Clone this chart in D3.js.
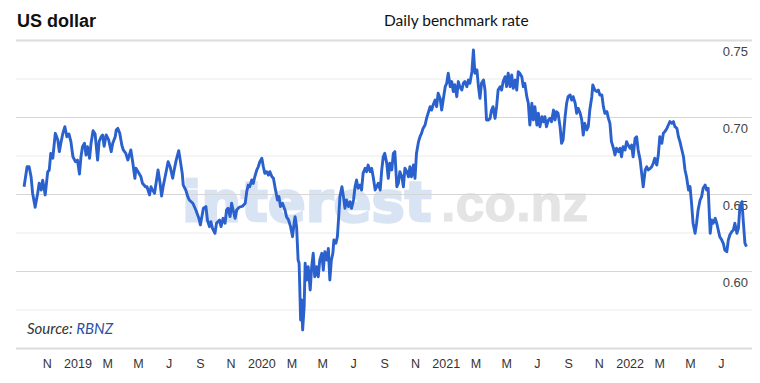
<!DOCTYPE html>
<html>
<head>
<meta charset="utf-8">
<script src="https://cdn.jsdelivr.net/npm/d3@7"></script>
<style>
body { margin: 0; background: #fff; }
svg { display: block; }
</style>
</head>
<body>
<div id="chart"></div>
<script>
// NZD/USD daily benchmark rate
var dates = [
  "2018-09-17","2018-09-23","2018-09-27","2018-10-01","2018-10-04","2018-10-09","2018-10-14","2018-10-17","2018-10-21","2018-10-24",
  "2018-10-29","2018-11-03","2018-11-06","2018-11-09","2018-11-13","2018-11-18","2018-11-23","2018-11-26","2018-11-29","2018-12-03",
  "2018-12-07","2018-12-11","2018-12-15","2018-12-19","2018-12-23","2018-12-28","2019-01-01","2019-01-05","2019-01-08","2019-01-11",
  "2019-01-15","2019-01-18","2019-01-21","2019-01-25","2019-01-28","2019-02-01","2019-02-05","2019-02-10","2019-02-13","2019-02-17",
  "2019-02-20","2019-02-23","2019-02-27","2019-03-04","2019-03-09","2019-03-12","2019-03-17","2019-03-19","2019-03-22","2019-03-26",
  "2019-03-30","2019-04-02","2019-04-07","2019-04-11","2019-04-17","2019-04-21","2019-04-25","2019-04-27","2019-05-03","2019-05-07",
  "2019-05-10","2019-05-16","2019-05-19","2019-05-24","2019-05-27","2019-05-30","2019-06-03","2019-06-06","2019-06-10","2019-06-14",
  "2019-06-17","2019-06-20","2019-06-26","2019-06-30","2019-07-04","2019-07-09","2019-07-12","2019-07-16","2019-07-21","2019-07-24",
  "2019-07-28","2019-07-30","2019-08-04","2019-08-08","2019-08-11","2019-08-18","2019-08-24","2019-08-30","2019-09-02","2019-09-08",
  "2019-09-13","2019-09-16","2019-09-20","2019-09-23","2019-09-26","2019-10-01","2019-10-04","2019-10-10","2019-10-13","2019-10-17",
  "2019-10-21","2019-10-24","2019-10-27","2019-10-31","2019-11-03","2019-11-06","2019-11-10","2019-11-13","2019-11-18","2019-11-25",
  "2019-11-30","2019-12-03","2019-12-06","2019-12-09","2019-12-13","2019-12-16","2019-12-19","2019-12-23","2019-12-26","2019-12-29",
  "2020-01-02","2020-01-05","2020-01-08","2020-01-12","2020-01-15","2020-01-18","2020-01-22","2020-01-25","2020-01-28","2020-02-02",
  "2020-02-05","2020-02-08","2020-02-12","2020-02-17","2020-02-20","2020-02-24","2020-02-28","2020-03-03","2020-03-06","2020-03-08",
  "2020-03-11","2020-03-14","2020-03-16","2020-03-19","2020-03-21","2020-03-23","2020-03-26","2020-03-28","2020-03-31","2020-04-03",
  "2020-04-07","2020-04-10","2020-04-13","2020-04-16","2020-04-20","2020-04-23","2020-04-26","2020-04-30","2020-05-03","2020-05-06",
  "2020-05-10","2020-05-13","2020-05-16","2020-05-19","2020-05-22","2020-05-24","2020-05-28","2020-05-31","2020-06-03","2020-06-05",
  "2020-06-09","2020-06-12","2020-06-15","2020-06-18","2020-06-22","2020-06-25","2020-06-28","2020-07-02","2020-07-05","2020-07-08",
  "2020-07-11","2020-07-15","2020-07-18","2020-07-21","2020-07-25","2020-07-28","2020-07-31","2020-08-04","2020-08-07","2020-08-10",
  "2020-08-14","2020-08-17","2020-08-20","2020-08-24","2020-08-27","2020-08-30","2020-09-02","2020-09-06","2020-09-09","2020-09-12",
  "2020-09-16","2020-09-19","2020-09-22","2020-09-26","2020-09-29","2020-10-02","2020-10-06","2020-10-09","2020-10-12","2020-10-16",
  "2020-10-19","2020-10-22","2020-10-25","2020-10-29","2020-11-01","2020-11-04","2020-11-08","2020-11-11","2020-11-14","2020-11-17",
  "2020-11-21","2020-11-24","2020-11-27","2020-12-01","2020-12-04","2020-12-07","2020-12-11","2020-12-14","2020-12-17","2020-12-21",
  "2020-12-24","2020-12-27","2020-12-31","2021-01-03","2021-01-06","2021-01-10","2021-01-13","2021-01-16","2021-01-19","2021-01-23",
  "2021-01-26","2021-01-29","2021-02-02","2021-02-05","2021-02-08","2021-02-12","2021-02-15","2021-02-18","2021-02-22","2021-02-25",
  "2021-02-28","2021-03-04","2021-03-07","2021-03-10","2021-03-13","2021-03-17","2021-03-20","2021-03-23","2021-03-27","2021-03-30",
  "2021-04-02","2021-04-05","2021-04-09","2021-04-12","2021-04-15","2021-04-19","2021-04-22","2021-04-25","2021-04-29","2021-05-02",
  "2021-05-05","2021-05-09","2021-05-12","2021-05-15","2021-05-19","2021-05-22","2021-05-25","2021-05-28","2021-06-01","2021-06-04",
  "2021-06-07","2021-06-11","2021-06-14","2021-06-17","2021-06-21","2021-06-24","2021-06-27","2021-07-01","2021-07-04","2021-07-07",
  "2021-07-11","2021-07-14","2021-07-17","2021-07-20","2021-07-24","2021-07-27","2021-07-30","2021-08-03","2021-08-06","2021-08-09",
  "2021-08-12","2021-08-16","2021-08-19","2021-08-22","2021-08-26","2021-08-29","2021-09-01","2021-09-05","2021-09-08","2021-09-11",
  "2021-09-15","2021-09-18","2021-09-21","2021-09-25","2021-09-28","2021-10-01","2021-10-04","2021-10-08","2021-10-11","2021-10-14",
  "2021-10-18","2021-10-20","2021-10-24","2021-10-28","2021-10-31","2021-11-03","2021-11-07","2021-11-10","2021-11-13","2021-11-17",
  "2021-11-20","2021-11-23","2021-11-26","2021-11-30","2021-12-03","2021-12-06","2021-12-10","2021-12-13","2021-12-16","2021-12-19",
  "2021-12-23","2021-12-26","2021-12-29","2022-01-02","2022-01-05","2022-01-08","2022-01-12","2022-01-15","2022-01-18","2022-01-22",
  "2022-01-25","2022-01-28","2022-02-01","2022-02-04","2022-02-07","2022-02-11","2022-02-14","2022-02-17","2022-02-20","2022-02-24",
  "2022-02-27","2022-03-02","2022-03-06","2022-03-09","2022-03-12","2022-03-16","2022-03-19","2022-03-22","2022-03-26","2022-03-29",
  "2022-04-01","2022-04-05","2022-04-08","2022-04-11","2022-04-14","2022-04-18","2022-04-21","2022-04-24","2022-04-28","2022-05-01",
  "2022-05-04","2022-05-07","2022-05-11","2022-05-14","2022-05-17","2022-05-21","2022-05-24","2022-05-27","2022-05-31","2022-06-03",
  "2022-06-06","2022-06-10","2022-06-13","2022-06-16","2022-06-20","2022-06-23","2022-06-26","2022-06-29","2022-07-03","2022-07-06",
  "2022-07-09","2022-07-13","2022-07-16","2022-07-19","2022-07-23","2022-07-26","2022-07-29","2022-08-02","2022-08-05","2022-08-08",
  "2022-08-12","2022-08-15","2022-08-18","2022-08-21"
];

var rates = [
  0.6547,0.6677,0.6677,0.6610,0.6505,0.6414,0.6505,0.6570,0.6526,0.6590,
  0.6494,0.6645,0.6655,0.6764,0.6732,0.6894,0.6851,0.6775,0.6829,0.6894,
  0.6937,0.6872,0.6890,0.6840,0.6742,0.6710,0.6720,0.6630,0.6742,0.6807,
  0.6829,0.6753,0.6807,0.6732,0.6830,0.6911,0.6890,0.6720,0.6840,0.6872,
  0.6883,0.6810,0.6883,0.6851,0.6775,0.6829,0.6872,0.6916,0.6926,0.6894,
  0.6818,0.6786,0.6764,0.6720,0.6786,0.6700,0.6602,0.6667,0.6634,0.6612,
  0.6570,0.6547,0.6547,0.6494,0.6547,0.6526,0.6505,0.6570,0.6656,0.6570,
  0.6487,0.6547,0.6645,0.6710,0.6677,0.6602,0.6656,0.6720,0.6781,0.6720,
  0.6634,0.6558,0.6526,0.6483,0.6461,0.6440,0.6396,0.6342,0.6299,0.6407,
  0.6418,0.6331,0.6288,0.6320,0.6277,0.6245,0.6310,0.6331,0.6288,0.6342,
  0.6310,0.6396,0.6407,0.6353,0.6440,0.6396,0.6342,0.6396,0.6414,0.6422,
  0.6440,0.6515,0.6558,0.6548,0.6591,0.6569,0.6612,0.6656,0.6677,0.6710,
  0.6732,0.6677,0.6634,0.6645,0.6623,0.6645,0.6612,0.6602,0.6547,0.6461,
  0.6483,0.6418,0.6440,0.6396,0.6353,0.6331,0.6288,0.6223,0.6310,0.6353,
  0.6288,0.6071,0.6050,0.5682,0.5812,0.5617,0.5768,0.6050,0.5942,0.6028,
  0.5877,0.6028,0.6115,0.5963,0.6028,0.5963,0.6071,0.6115,0.6006,0.6125,
  0.6071,0.6147,0.5942,0.6071,0.6115,0.6201,0.6180,0.6223,0.6375,0.6483,
  0.6547,0.6483,0.6407,0.6461,0.6418,0.6450,0.6407,0.6461,0.6547,0.6591,
  0.6537,0.6558,0.6526,0.6634,0.6667,0.6645,0.6688,0.6645,0.6667,0.6612,
  0.6526,0.6548,0.6570,0.6526,0.6656,0.6742,0.6764,0.6699,0.6602,0.6700,
  0.6656,0.6764,0.6775,0.6547,0.6570,0.6645,0.6612,0.6547,0.6667,0.6645,
  0.6612,0.6677,0.6612,0.6688,0.6602,0.6764,0.6840,0.6872,0.6894,0.6926,
  0.6948,0.6991,0.7024,0.7067,0.7045,0.7078,0.7110,0.7067,0.7154,0.7120,
  0.7045,0.7110,0.7197,0.7219,0.7284,0.7197,0.7230,0.7165,0.7210,0.7132,
  0.7230,0.7197,0.7176,0.7219,0.7230,0.7197,0.7240,0.7219,0.7294,0.7435,
  0.7284,0.7306,0.7197,0.7121,0.7219,0.7240,0.7175,0.6981,0.6981,0.6991,
  0.7045,0.7067,0.6991,0.7067,0.7175,0.7197,0.7175,0.7230,0.7262,0.7197,
  0.7284,0.7197,0.7273,0.7186,0.7240,0.7175,0.7294,0.7284,0.7262,0.7197,
  0.7219,0.7132,0.7089,0.6948,0.7089,0.6981,0.7067,0.6948,0.7024,0.6937,
  0.7002,0.6969,0.7002,0.6937,0.6981,0.6991,0.6969,0.7045,0.6981,0.7035,
  0.7024,0.6937,0.6829,0.6851,0.7002,0.7089,0.7132,0.7143,0.7110,0.7132,
  0.7089,0.7024,0.7056,0.7024,0.6981,0.6883,0.6959,0.6916,0.6937,0.7045,
  0.7132,0.7208,0.7175,0.7165,0.7175,0.7143,0.7143,0.7067,0.7024,0.7035,
  0.6991,0.6959,0.6840,0.6797,0.6753,0.6797,0.6775,0.6797,0.6742,0.6807,
  0.6786,0.6840,0.6818,0.6797,0.6818,0.6742,0.6862,0.6872,0.6786,0.6720,
  0.6634,0.6547,0.6656,0.6677,0.6656,0.6667,0.6677,0.6700,0.6732,0.6688,
  0.6753,0.6872,0.6829,0.6894,0.6905,0.6926,0.6948,0.6970,0.6959,0.6970,
  0.6937,0.6926,0.6872,0.6840,0.6797,0.6742,0.6656,0.6612,0.6526,0.6548,
  0.6440,0.6310,0.6245,0.6310,0.6396,0.6461,0.6483,0.6537,0.6558,0.6526,
  0.6537,0.6245,0.6331,0.6310,0.6342,0.6310,0.6266,0.6223,0.6201,0.6180,
  0.6136,0.6125,0.6201,0.6234,0.6256,0.6266,0.6310,0.6245,0.6277,0.6418,
  0.6450,0.6310,0.6180,0.6158
];

var gridValues = [0.55, 0.575, 0.60, 0.625, 0.65, 0.675, 0.70, 0.725, 0.75];
var labelValues = [0.60, 0.65, 0.70, 0.75];

var xTickDates = ["2018-11-01","2019-01-01","2019-03-01","2019-05-01","2019-07-01","2019-09-01","2019-11-01",
  "2020-01-01","2020-03-01","2020-05-01","2020-07-01","2020-09-01","2020-11-01",
  "2021-01-01","2021-03-01","2021-05-01","2021-07-01","2021-09-01","2021-11-01",
  "2022-01-01","2022-03-01","2022-05-01","2022-07-01"];
var xTickLabels = ["N","2019","M","M","J","S","N","2020","M","M","J","S","N",
  "2021","M","M","J","S","N","2022","M","M","J"];

var width = 760,
    height = 383;

var svg = d3.select("#chart").append("svg")
    .attr("width", width)
    .attr("height", height)
    .style("background", "#fff");

var parse = d3.timeParse("%Y-%m-%d");

var data = dates.map(function (d, i) {
    return { date: parse(d), rate: rates[i] };
});

var x = d3.scaleTime()
    .domain([parse("2018-09-01"), parse("2022-09-01")])
    .range([16, 752]);

var y = d3.scaleLinear()
    .domain([0.55, 0.75])
    .range([348, 40]);

// title row
svg.append("text")
    .attr("x", 17)
    .attr("y", 27)
    .style("font-family", "'Liberation Sans', Arial, sans-serif")
    .style("font-weight", "bold")
    .style("font-size", "18px")
    .style("fill", "#111")
    .text("US dollar");

svg.append("text")
    .attr("x", 384)
    .attr("y", 26)
    .style("font-family", "Lato, 'Open Sans', sans-serif")
    .style("font-size", "15.5px")
    .style("fill", "#111")
    .text("Daily benchmark rate");

// watermark
var wm = svg.append("text")
    .attr("x", 182)
    .attr("y", 221);
wm.append("tspan")
    .style("font-family", "'DejaVu Sans', sans-serif")
    .style("font-weight", "bold")
    .style("font-size", "56px")
    .style("fill", "#d8e4f4")
    .style("stroke", "#d8e4f4")
    .style("stroke-width", 2.5)
    .text("interest");
wm.append("tspan")
    .attr("x", 441)
    .style("font-family", "'Liberation Sans', Arial, sans-serif")
    .style("font-weight", "bold")
    .style("font-size", "52px")
    .style("fill", "#e4e4e4")
    .style("stroke", "#e4e4e4")
    .style("stroke-width", 1)
    .text(".co.nz");

// gridlines
var grid = svg.append("g")
    .attr("transform", "translate(16,0)")
    .call(d3.axisRight(y)
        .tickValues(gridValues)
        .tickSize(736)
        .tickFormat(""));
grid.select(".domain").remove();
grid.selectAll(".tick line")
    .attr("stroke", function (d) {
        if (d === 0.75 || d === 0.55) return "#dcdcdc";
        return Math.round(d * 1000) % 50 === 0 ? "#d6d6d6" : "#ececec";
    })
    .attr("stroke-width", function (d) {
        return (d === 0.75 || d === 0.55) ? 2 : 1.2;
    });

// right-hand value labels
var yAxis = svg.append("g")
    .attr("transform", "translate(748,0)")
    .call(d3.axisRight(y)
        .tickValues(labelValues)
        .tickSize(0)
        .tickPadding(0)
        .tickFormat(d3.format(".2f")));
yAxis.select(".domain").remove();
yAxis.selectAll("text")
    .attr("text-anchor", "end")
    .attr("y", 11)
    .style("font-family", "'Liberation Sans', Arial, sans-serif")
    .style("font-size", "13px")
    .style("fill", "#444");

// month axis
var xAxis = svg.append("g")
    .attr("transform", "translate(0,348)")
    .call(d3.axisBottom(x)
        .tickValues(xTickDates.map(parse))
        .tickSize(0)
        .tickPadding(11)
        .tickFormat(function (d, i) { return xTickLabels[i]; }));
xAxis.select(".domain").remove();
xAxis.selectAll("text")
    .style("font-family", "'Liberation Sans', Arial, sans-serif")
    .style("font-size", "12.5px")
    .style("fill", "#333");

// the rate line
var line = d3.line()
    .x(function (d) { return x(d.date); })
    .y(function (d) { return y(d.rate); });

svg.append("path")
    .datum(data)
    .attr("d", line)
    .attr("fill", "none")
    .attr("stroke", "#2a61cc")
    .attr("stroke-width", 2.9)
    .attr("stroke-linejoin", "round");

// source note
var src = svg.append("text")
    .attr("x", 27)
    .attr("y", 334)
    .style("font-family", "Lato, 'Open Sans', sans-serif")
    .style("font-style", "italic")
    .style("font-size", "15px");
src.append("tspan").style("fill", "#333").text("Source: ");
src.append("tspan").style("fill", "#2b4fa8").text("RBNZ");
</script>
</body>
</html>
